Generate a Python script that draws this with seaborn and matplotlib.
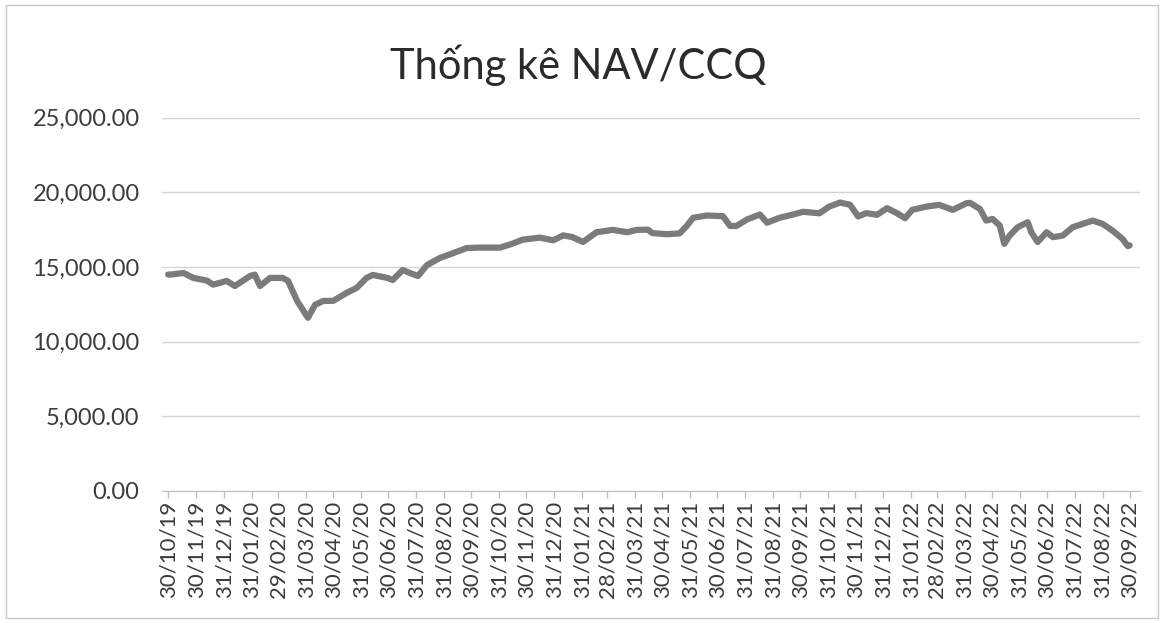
import pandas as pd
import numpy as np
import matplotlib
matplotlib.use("Agg")
import matplotlib.pyplot as plt
import matplotlib.dates as mdates
import seaborn as sns
from matplotlib.ticker import FuncFormatter

# --- Data ---
dates = [
    "2019-10-30", "2019-11-01", "2019-11-16", "2019-11-27", "2019-12-12", "2019-12-19",
    "2020-01-03", "2020-01-12", "2020-01-29", "2020-02-03", "2020-02-09", "2020-02-20",
    "2020-03-05", "2020-03-11", "2020-03-21", "2020-04-02", "2020-04-10", "2020-04-19",
    "2020-04-30", "2020-05-15", "2020-05-26", "2020-06-06", "2020-06-13", "2020-06-29",
    "2020-07-05", "2020-07-16", "2020-07-24", "2020-08-02", "2020-08-12", "2020-08-26",
    "2020-09-10", "2020-09-25", "2020-10-10", "2020-11-01", "2020-11-15", "2020-11-26",
    "2020-12-15", "2020-12-30", "2021-01-10", "2021-01-20", "2021-02-01", "2021-02-16",
    "2021-03-06", "2021-03-22", "2021-04-02", "2021-04-14", "2021-04-19", "2021-05-05",
    "2021-05-19", "2021-05-27", "2021-06-03", "2021-06-18", "2021-07-06", "2021-07-14",
    "2021-07-21", "2021-08-02", "2021-08-16", "2021-08-24", "2021-09-07", "2021-09-22",
    "2021-10-03", "2021-10-21", "2021-11-01", "2021-11-13", "2021-11-24", "2021-12-03",
    "2021-12-12", "2021-12-24", "2022-01-04", "2022-01-15", "2022-01-24", "2022-02-01",
    "2022-02-17", "2022-03-03", "2022-03-18", "2022-04-02", "2022-04-06", "2022-04-17",
    "2022-04-24", "2022-05-01", "2022-05-09", "2022-05-14", "2022-05-20", "2022-05-29",
    "2022-06-09", "2022-06-13", "2022-06-20", "2022-06-30", "2022-07-07", "2022-07-18",
    "2022-07-29", "2022-08-09", "2022-08-20", "2022-08-31", "2022-09-11", "2022-09-22",
    "2022-09-28", "2022-09-30",
]
nav = [
    14500, 14490, 14600, 14270, 14090, 13820,
    14070, 13730, 14400, 14490, 13730, 14270,
    14270, 14070, 12730, 11600, 12470, 12730,
    12730, 13270, 13600, 14270, 14470, 14270,
    14130, 14800, 14600, 14400, 15130, 15600,
    15930, 16270, 16300, 16300, 16570, 16830,
    16970, 16790, 17120, 17010, 16680, 17330,
    17490, 17330, 17490, 17500, 17270, 17200,
    17250, 17750, 18300, 18450, 18410, 17750,
    17750, 18190, 18520, 17970, 18300, 18520,
    18700, 18600, 19050, 19320, 19170, 18390,
    18610, 18500, 18940, 18610, 18270, 18830,
    19050, 19160, 18830, 19270, 19300, 18890,
    18110, 18220, 17780, 16550, 17110, 17670,
    18000, 17330, 16670, 17330, 17000, 17110,
    17670, 17890, 18110, 17890, 17440, 16890,
    16400, 16450,
]
tick_labels = [
    "30/10/19", "30/11/19", "31/12/19", "31/01/20", "29/02/20", "31/03/20",
    "30/04/20", "31/05/20", "30/06/20", "31/07/20", "31/08/20", "30/09/20",
    "31/10/20", "30/11/20", "31/12/20", "31/01/21", "28/02/21", "31/03/21",
    "30/04/21", "31/05/21", "30/06/21", "31/07/21", "31/08/21", "30/09/21",
    "31/10/21", "30/11/21", "31/12/21", "31/01/22", "28/02/22", "31/03/22",
    "30/04/22", "31/05/22", "30/06/22", "31/07/22", "31/08/22", "30/09/22",
]
y_ticks = [0, 5000, 10000, 15000, 20000, 25000]

df = pd.DataFrame({"date": pd.to_datetime(dates), "nav": nav})
tick_dates = pd.to_datetime(tick_labels, format="%d/%m/%y")

# --- Plot ---
sns.set_style("white")
plt.rcParams["font.family"] = ["Lato", "DejaVu Sans"]

fig = plt.figure(figsize=(11.64, 6.23), dpi=100)
ax = fig.add_axes([0.139, 0.212, 0.840, 0.599])

sns.lineplot(data=df, x="date", y="nav", ax=ax, color="#7b7b7b", linewidth=4.5)

ax.set_ylim(0, 25000)
ax.set_yticks(y_ticks)
ax.yaxis.set_major_formatter(FuncFormatter(lambda v, p: f"{v:,.2f}"))
ax.set_xlim(pd.Timestamp("2019-10-23"), pd.Timestamp("2022-10-11"))
ax.set_xticks(tick_dates)
ax.set_xticklabels(tick_labels, rotation=90)

ax.grid(axis="y", color="#d4d4d4", linewidth=1)
ax.set_axisbelow(True)
for side in ["top", "right", "left"]:
    ax.spines[side].set_visible(False)
ax.spines["bottom"].set_color("#bfbfbf")
ax.tick_params(axis="y", length=0, pad=16, labelsize=17, labelcolor="#3c3c3c")
ax.tick_params(axis="x", length=5, width=1, color="#bfbfbf", pad=2,
               labelsize=16, labelcolor="#3c3c3c", bottom=True)
ax.set_xlabel("")
ax.set_ylabel("")

fig.text(0.497, 0.895, "Thống kê NAV/CCQ", ha="center", va="center",
         fontsize=30, color="#2b2b2b")

# outer chart border like the Excel chart area
fig.patches.append(plt.Rectangle((0.005, 0.008), 0.99, 0.984, transform=fig.transFigure,
                                 fill=False, edgecolor="#c8c8c8", linewidth=1))

fig.savefig("out.png", dpi=100, facecolor="white")
